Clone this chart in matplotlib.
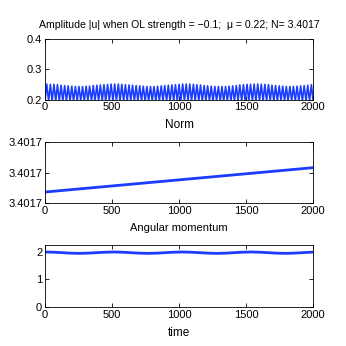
import numpy as np
import matplotlib
matplotlib.use('Agg')
import matplotlib.pyplot as plt
from matplotlib.ticker import FormatStrFormatter

plt.rcParams['font.family'] = ['Liberation Sans Narrow', 'Liberation Sans', 'DejaVu Sans']

# amplitude |u|: peaks and troughs of the fast oscillation
peak_t = [13, 40, 67, 93, 120, 147, 173, 200, 227, 253, 280, 307, 333, 360, 387,
          413, 440, 467, 493, 520, 547, 573, 600, 627, 653, 680, 707, 733, 760, 787,
          813, 840, 867, 893, 920, 947, 973, 1000, 1027, 1053, 1080, 1107, 1133, 1160,
          1187, 1213, 1240, 1267, 1293, 1320, 1347, 1373, 1400, 1427, 1453, 1480, 1507,
          1533, 1560, 1587, 1613, 1640, 1667, 1693, 1720, 1747, 1773, 1800, 1827, 1853,
          1880, 1907, 1933, 1960, 1987]
peak_u = [0.251, 0.250, 0.250, 0.249, 0.247, 0.246, 0.245, 0.244, 0.243, 0.243,
          0.243, 0.244, 0.244, 0.246, 0.247, 0.248, 0.249, 0.250, 0.251, 0.251,
          0.251, 0.250, 0.249, 0.248, 0.247, 0.246, 0.245, 0.244, 0.243, 0.243,
          0.243, 0.244, 0.245, 0.246, 0.247, 0.248, 0.249, 0.250, 0.251, 0.251,
          0.251, 0.250, 0.249, 0.248, 0.246, 0.245, 0.244, 0.243, 0.243, 0.243,
          0.243, 0.244, 0.245, 0.246, 0.248, 0.249, 0.250, 0.250, 0.251, 0.251,
          0.250, 0.250, 0.249, 0.247, 0.246, 0.245, 0.244, 0.243, 0.243, 0.243,
          0.244, 0.245, 0.246, 0.247, 0.249]
trough_t = [0, 27, 53, 80, 107, 133, 160, 187, 213, 240, 267, 293, 320, 347, 373,
            400, 427, 453, 480, 507, 533, 560, 587, 613, 640, 667, 693, 720, 747, 773,
            800, 827, 853, 880, 907, 933, 960, 987, 1013, 1040, 1067, 1093, 1120, 1147,
            1173, 1200, 1227, 1253, 1280, 1307, 1333, 1360, 1387, 1413, 1440, 1467, 1493,
            1520, 1547, 1573, 1600, 1627, 1653, 1680, 1707, 1733, 1760, 1787, 1813, 1840,
            1867, 1893, 1920, 1947, 1973, 2000]
trough_u = [0.195] * len(trough_t)

# norm (drifts very slightly)
norm_t = [0, 2000]
norm_v = [3.4016968, 3.4017008]

# angular momentum
ang_t = [0, 64, 128, 192, 256, 320, 384, 448, 512, 576, 640, 704, 768, 832, 896, 960,
         1024, 1088, 1152, 1216, 1280, 1344, 1408, 1472, 1536, 1600, 1664, 1728, 1792,
         1856, 1920, 1984, 2000]
ang_v = [1.99, 1.982, 1.965, 1.948, 1.94, 1.948, 1.965, 1.982,
         1.99, 1.982, 1.965, 1.948, 1.94, 1.948, 1.965, 1.982,
         1.99, 1.982, 1.965, 1.948, 1.94, 1.948, 1.965, 1.982,
         1.99, 1.982, 1.965, 1.948, 1.94, 1.948, 1.965, 1.982, 1.987]

xt = [0, 500, 1000, 1500, 2000]

t_amp = np.empty(len(peak_t) + len(trough_t))
u_amp = np.empty_like(t_amp)
t_amp[0::2] = trough_t
t_amp[1::2] = peak_t
u_amp[0::2] = trough_u
u_amp[1::2] = peak_u

fig = plt.figure(figsize=(3.46, 3.46), dpi=100)
ax1 = fig.add_axes([0.130, 0.7124, 0.775, 0.175])
ax2 = fig.add_axes([0.130, 0.4133, 0.775, 0.176])
ax3 = fig.add_axes([0.130, 0.1127, 0.775, 0.179])

blue = '#1a3cff'
ax1.plot(t_amp, u_amp, color=blue, lw=1.2)
ax1.set_ylim(0.2, 0.4)
ax1.set_yticks([0.2, 0.3, 0.4])
ax1.set_title('Amplitude |u| when OL strength = \u22120.1;  \u03bc = 0.22; N= 3.4017',
              fontsize=7.6, pad=8)
ax1.set_xlabel('Norm', fontsize=8.5, labelpad=5)

ax2.plot(norm_t, norm_v, color=blue, lw=2)
ax2.set_ylim(3.401695, 3.401705)
ax2.set_yticks([3.401695, 3.4017, 3.401705])
ax2.yaxis.set_major_formatter(FormatStrFormatter('%.4f'))
ax2.set_xlabel('Angular momentum', fontsize=8, labelpad=5)

ax3.plot(ang_t, ang_v, color=blue, lw=2)
ax3.set_ylim(0, 2.24)
ax3.set_yticks([0, 1, 2])
ax3.set_xlabel('time', fontsize=8.5, labelpad=5)

for ax in (ax1, ax2, ax3):
    ax.set_xlim(0, 2000)
    ax.set_xticks(xt)
    ax.tick_params(direction='in', length=3, width=0.6, labelsize=8, pad=2,
                   top=True, right=True)
    for sp in ax.spines.values():
        sp.set_linewidth(0.6)

fig.savefig('out.png', dpi=100)
